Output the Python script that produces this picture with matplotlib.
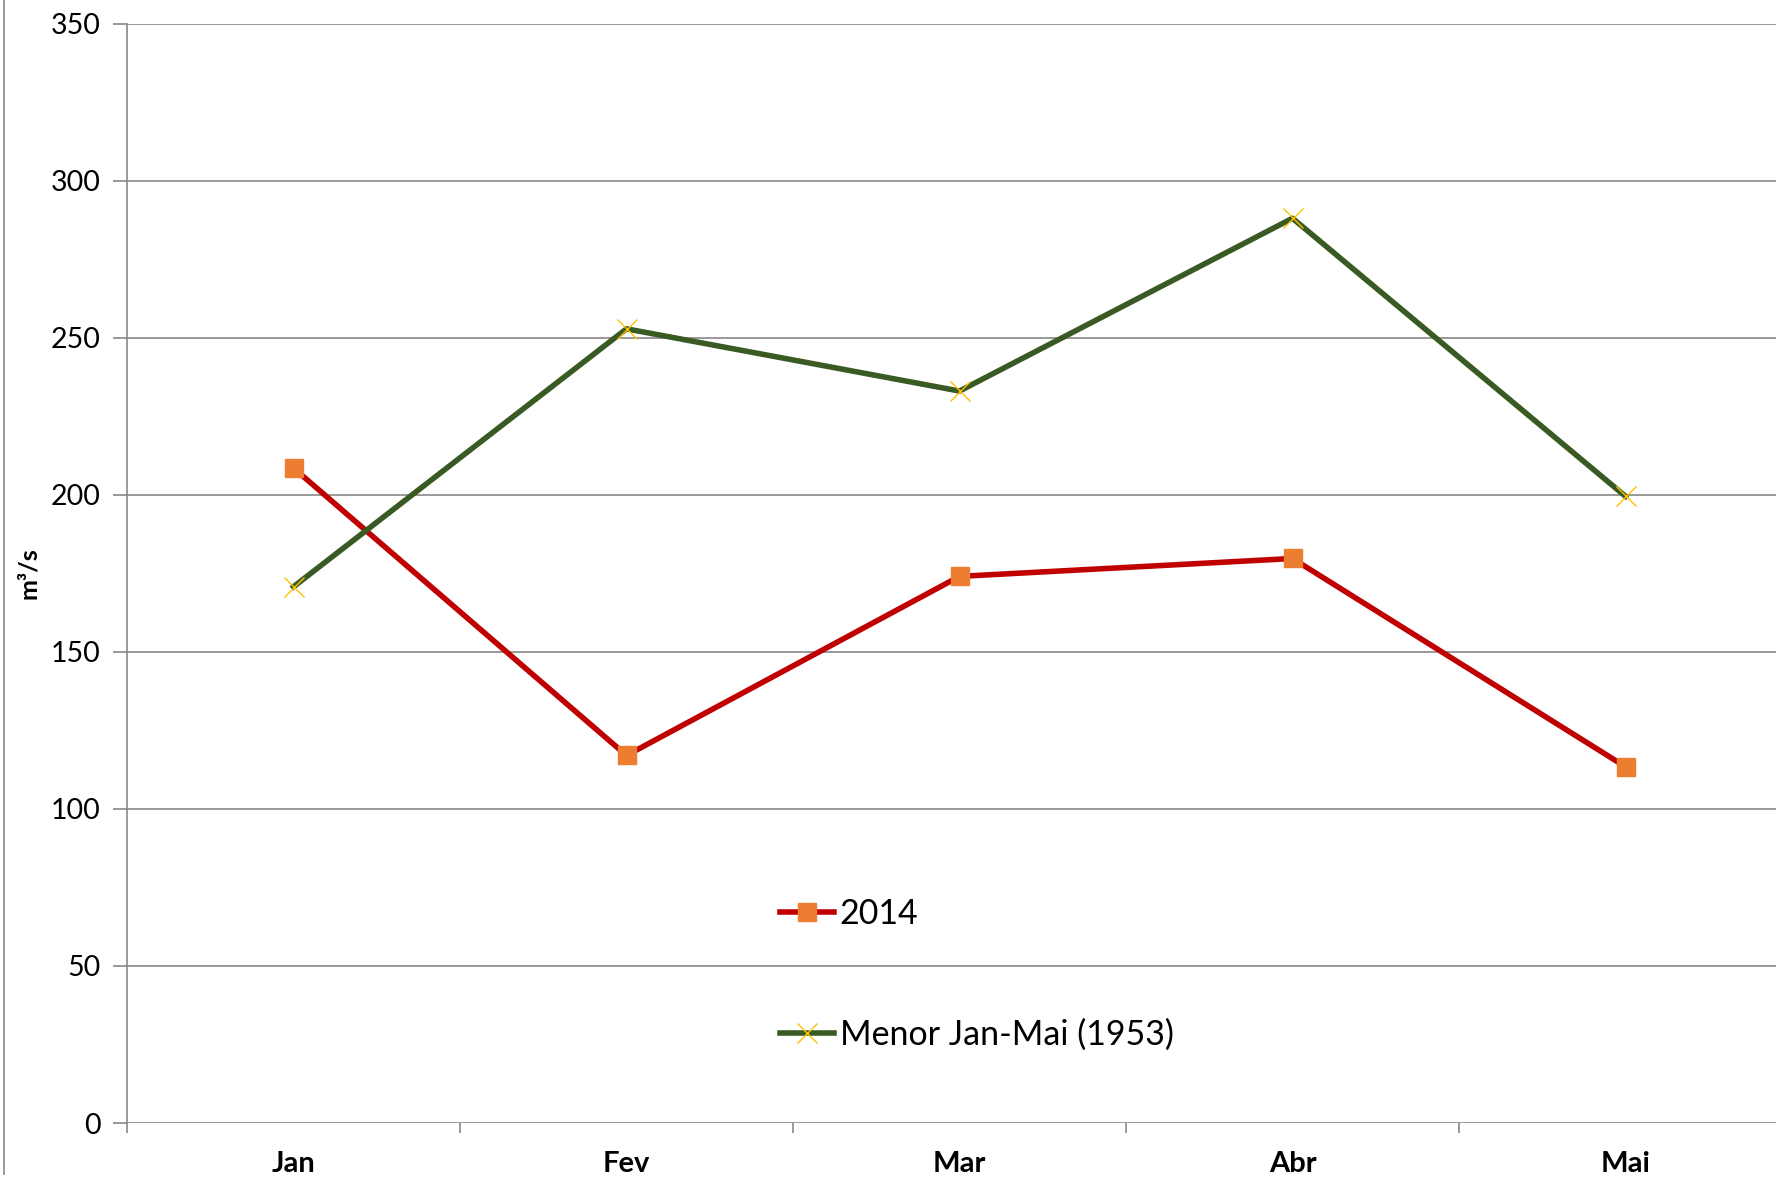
import matplotlib
matplotlib.use("Agg")
import matplotlib.pyplot as plt
from matplotlib.lines import Line2D

plt.rcParams['font.family'] = ['Lato', 'DejaVu Sans']

meses = ["Jan", "Fev", "Mar", "Abr", "Mai"]
vazao_2014 = [208.5, 117, 174, 179.7, 113.4]
vazao_1953 = [170.7, 252.8, 233, 288, 199.5]

fig = plt.figure(figsize=(17.76, 11.78), dpi=100)
# axes runs a bit past the right edge, like the cropped original
ax = fig.add_axes([127 / 1776, 55 / 1178, 1665 / 1776, 1099.5 / 1178])

x = list(range(len(meses)))
ax.plot(x, vazao_2014, color="#C00000", linewidth=4, marker="s",
        markersize=13, markerfacecolor="#ED7D31", markeredgecolor="#ED7D31",
        label="2014")
ax.plot(x, vazao_1953, color="#3A5A24", linewidth=4, marker="x",
        markersize=14, markeredgecolor="#FFC000", markeredgewidth=1,
        label="Menor Jan-Mai (1953)")

ax.set_xlim(-0.5, 4.5)
ax.set_ylim(0, 350)
ax.set_yticks(range(0, 351, 50))
ax.grid(axis="y", color="#888888", linewidth=1.2)
ax.set_axisbelow(True)

ax.set_xticks(x)
ax.set_xticklabels(meses, fontsize=21, fontweight="bold")
ax.set_xticks([i - 0.5 for i in range(6)], minor=True)
ax.tick_params(axis="x", which="major", length=0, pad=20)
ax.tick_params(axis="x", which="minor", length=7, width=1.2, color="#888888")
ax.tick_params(axis="y", length=10, width=1.2, color="#888888", labelsize=20.5, pad=9)

for side in ["top", "right", "bottom"]:
    ax.spines[side].set_visible(False)
ax.spines["left"].set_color("#888888")
ax.spines["left"].set_linewidth(1.2)

ax.set_ylabel("m³/s", fontsize=18, fontweight="bold")
ax.yaxis.set_label_coords(-0.052, 0.5)

ax.legend(loc="upper left", bbox_to_anchor=(780 / 1776, 1 - 898 / 1178),
          bbox_transform=fig.transFigure, frameon=False, fontsize=24.5,
          handlelength=1.6, handletextpad=0.15, labelspacing=2.6,
          borderpad=0, borderaxespad=0)

# thin frame line on the left edge of the original picture
fig.add_artist(Line2D([4 / 1776, 4 / 1776], [0.003, 1], transform=fig.transFigure,
                      color="#888888", linewidth=1.2))

fig.savefig("out.png", dpi=100)
